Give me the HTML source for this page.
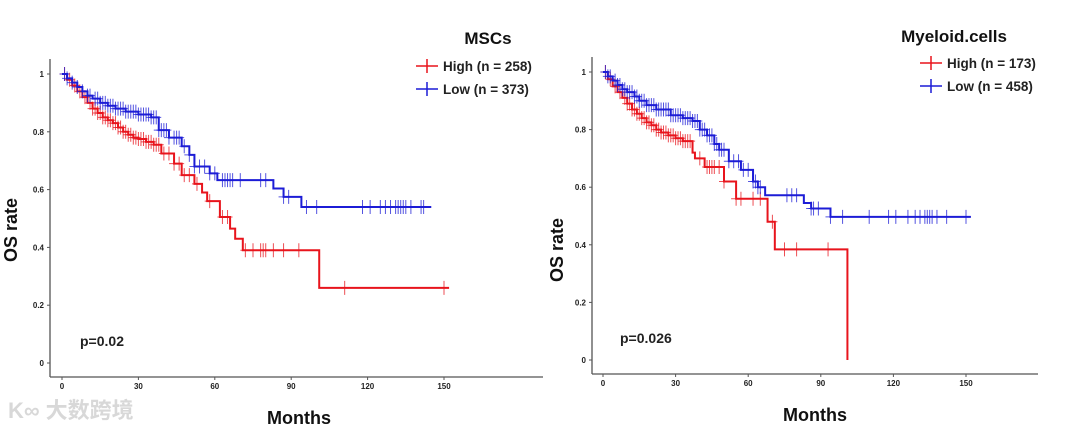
<!DOCTYPE html>
<html><head><meta charset="utf-8">
<style>
html,body{margin:0;padding:0;background:#fff;}
body{width:1080px;height:430px;overflow:hidden;font-family:"Liberation Sans",Arial,sans-serif;}
svg text{font-family:"Liberation Sans","Noto Sans CJK SC",sans-serif;}
</style></head>
<body>
<svg id="chart" width="1080" height="430" viewBox="0 0 1080 430" xmlns="http://www.w3.org/2000/svg">
<text x="8" y="418" font-size="22" fill="#d8d8d8" font-weight="bold">K∞ 大数跨境</text>
</svg>
<script>
// ---- Data: MSCs panel ----
const xTicks = [0, 30, 60, 90, 120, 150];
const yTicks = [0, 0.2, 0.4, 0.6, 0.8, 1];
const yTickLabels = ["0", "0.2", "0.4", "0.6", "0.8", "1"];

const mscHighT = [0,2,4,6,8,10,12,14,16,18,20,22,24,26,28,30,33,36,39,44,47,52,55,57,62,66,68,71,101,152];
const mscHighS = [1,0.98,0.96,0.94,0.92,0.90,0.88,0.865,0.85,0.84,0.83,0.815,0.80,0.79,0.78,0.775,0.765,0.755,0.725,0.69,0.65,0.62,0.59,0.56,0.505,0.465,0.43,0.39,0.26,0.26];
const mscHighC = [1,3,5,7,9,11,12,13,14,15,16,17,18,19,20,21,22,23,24,25,26,27,28,29,30,31,32,33,34,35,36,37,38,40,42,44,46,48,50,53,58,63,65,72,75,78,79,80,83,87,93,111,150];
const mscLowT = [0,2,4,6,8,10,12,15,18,21,25,30,35,38,42,47,50,52,58,61,83,87,94,145];
const mscLowS = [1,0.985,0.97,0.955,0.94,0.925,0.915,0.90,0.89,0.88,0.87,0.86,0.85,0.806,0.78,0.75,0.72,0.68,0.656,0.633,0.604,0.575,0.54,0.54];
const mscLowC = [1,2,4,6,8,10,11,13,14,15,16,17,18,19,20,21,22,23,24,25,26,27,28,29,30,31,32,33,34,35,36,37,38,39,40,41,42,44,45,46,48,50,52,54,56,58,60,63,64,65,66,67,70,78,80,87,89,96,100,118,121,125,127,129,131,132,133,134,135,137,141,142];

// ---- Data: Myeloid.cells panel ----
const myHighT = [0,2,4,6,8,10,12,14,16,18,20,22,24,27,30,33,37,38,42,50,55,68,71,101];
const myHighS = [1,0.975,0.95,0.93,0.91,0.89,0.87,0.855,0.84,0.825,0.815,0.80,0.79,0.78,0.77,0.76,0.72,0.70,0.67,0.62,0.56,0.48,0.384,0];
const myHighC = [1,3,5,7,9,10,11,12,13,14,15,16,17,18,19,20,21,22,23,24,25,26,27,28,29,30,31,32,33,34,35,36,40,43,44,45,46,48,50,55,57,62,65,70,75,80,93];
const myLowT = [0,2,4,6,8,10,13,15,18,22,28,33,37,40,43,46,48,52,57,62,64,67,83,86,94,152];
const myLowS = [1,0.985,0.97,0.955,0.94,0.93,0.915,0.90,0.885,0.87,0.85,0.84,0.83,0.80,0.78,0.75,0.73,0.69,0.66,0.62,0.60,0.572,0.545,0.526,0.497,0.497];
const myLowC = [1,2,3,5,6,7,8,9,10,11,12,13,14,15,16,17,18,19,20,21,22,23,24,25,26,27,28,29,30,31,32,33,34,35,36,37,38,39,40,41,42,43,44,45,46,47,48,49,50,52,54,56,58,60,62,63,64,65,76,78,80,86,87,89,94,99,110,118,121,126,129,131,133,134,135,136,138,142,150];

const NS = "http://www.w3.org/2000/svg";
const svg = document.getElementById("chart");
function mk(tag, attrs, parent) {
  const e = document.createElementNS(NS, tag);
  for (const k in attrs) e.setAttribute(k, attrs[k]);
  (parent || svg).appendChild(e);
  return e;
}
function stepAt(T, S, t) { let s = S[0]; for (let i = 0; i < T.length; i++) { if (T[i] <= t) s = S[i]; } return s; }

function panel(cfg) {
  const g = mk("g", {});
  
  
  const xs = t => cfg.x0 + (t / 150) * (cfg.x150 - cfg.x0);
  const ys = s => cfg.y0 - s * (cfg.y0 - cfg.y1);
  // axes
  const ya = mk("line", {x1: cfg.ax, y1: cfg.axTop, x2: cfg.ax, y2: cfg.axY, stroke: "#555", "stroke-width": 1.3}, g);
  
  
  const xa = mk("line", {x1: cfg.ax, y1: cfg.axY, x2: cfg.axRight, y2: cfg.axY, stroke: "#555", "stroke-width": 1.3}, g);
  
  
  yTicks.forEach((v, i) => {
    mk("line", {x1: cfg.ax - 3, y1: ys(v), x2: cfg.ax, y2: ys(v), stroke: "#555"}, g);
    const t = mk("text", {x: cfg.ax - 6, y: ys(v) + 3, "font-size": 8, "font-weight": "bold", "text-anchor": "end", fill: "#222"}, g);
    t.textContent = yTickLabels[i];
    
    
  });
  xTicks.forEach(v => {
    mk("line", {x1: xs(v), y1: cfg.axY, x2: xs(v), y2: cfg.axY + 3, stroke: "#555"}, g);
    const t = mk("text", {x: xs(v), y: cfg.axY + 12, "font-size": 8, "font-weight": "bold", "text-anchor": "middle", fill: "#222"}, g);
    t.textContent = String(v);
    
    
  });
  // series
  cfg.series.forEach(sr => {
    let d = "M" + xs(sr.T[0]) + "," + ys(sr.S[0]);
    for (let i = 1; i < sr.T.length; i++) {
      d += " H" + xs(sr.T[i]) + " V" + ys(sr.S[i]);
    }
    const p = mk("path", {d: d, fill: "none", stroke: sr.color, "stroke-width": 2}, g);
    
    
    sr.C.forEach(t => {
      const cx = xs(t), cy = ys(stepAt(sr.T, sr.S, t));
      const c = mk("path", {d: "M" + (cx - 5) + "," + cy + " H" + (cx + 5) + " M" + cx + "," + (cy - 7) + " V" + (cy + 7), stroke: sr.color, "stroke-width": 1, opacity: 0.75}, g);
      
      
    });
  });
  // title
  const ti = mk("text", {x: cfg.titleX, y: cfg.titleY, "font-size": 17, "font-weight": "bold", "text-anchor": "middle", fill: "#111"}, g);
  ti.textContent = cfg.title;
  
  
  // legend
  cfg.series.forEach((sr, i) => {
    const ly = cfg.legY + i * 23;
    const lg = mk("g", {}, g);
    
    
    mk("path", {d: "M" + cfg.legX + "," + ly + " H" + (cfg.legX + 22) + " M" + (cfg.legX + 11) + "," + (ly - 7) + " V" + (ly + 7), stroke: sr.color, "stroke-width": 1.5}, lg);
    const lt = mk("text", {x: cfg.legX + 27, y: ly + 5, "font-size": 13.5, "font-weight": "bold", fill: "#222"}, lg);
    lt.textContent = sr.label;
  });
  // axis titles
  const yl = mk("text", {x: 0, y: 0, transform: "translate(" + cfg.ylabX + "," + cfg.ylabY + ") rotate(-90)", "font-size": 18, "font-weight": "bold", "text-anchor": "middle", fill: "#111"}, g);
  yl.textContent = "OS rate";
  
  
  const xl = mk("text", {x: cfg.xlabX, y: cfg.xlabY, "font-size": 18, "font-weight": "bold", "text-anchor": "middle", fill: "#111"}, g);
  xl.textContent = "Months";
  
  
  const pv = mk("text", {x: cfg.pX, y: cfg.pY, "font-size": 14, "font-weight": "bold", fill: "#222"}, g);
  pv.textContent = cfg.p;
  
  
}

panel({name: "msc-chart", title: "MSCs", p: "p=0.02",
  x0: 62, x150: 444, y0: 363, y1: 74, ax: 50, axTop: 59, axY: 377, axRight: 543,
  titleX: 488, titleY: 44, legX: 416, legY: 66,
  ylabX: 17, ylabY: 230, xlabX: 299, xlabY: 424, pX: 80, pY: 346,
  series: [
    {name: "high", color: "#e8141c", T: mscHighT, S: mscHighS, C: mscHighC, label: "High (n = 258)"},
    {name: "low", color: "#1c1cd6", T: mscLowT, S: mscLowS, C: mscLowC, label: "Low (n = 373)"}
  ]});
panel({name: "myeloid-chart", title: "Myeloid.cells", p: "p=0.026",
  x0: 603, x150: 966, y0: 360, y1: 72, ax: 592, axTop: 57, axY: 374, axRight: 1038,
  titleX: 954, titleY: 42, legX: 920, legY: 63,
  ylabX: 563, ylabY: 250, xlabX: 815, xlabY: 421, pX: 620, pY: 343,
  series: [
    {name: "high", color: "#e8141c", T: myHighT, S: myHighS, C: myHighC, label: "High (n = 173)"},
    {name: "low", color: "#1c1cd6", T: myLowT, S: myLowS, C: myLowC, label: "Low (n = 458)"}
  ]});
</script>
</body></html>
